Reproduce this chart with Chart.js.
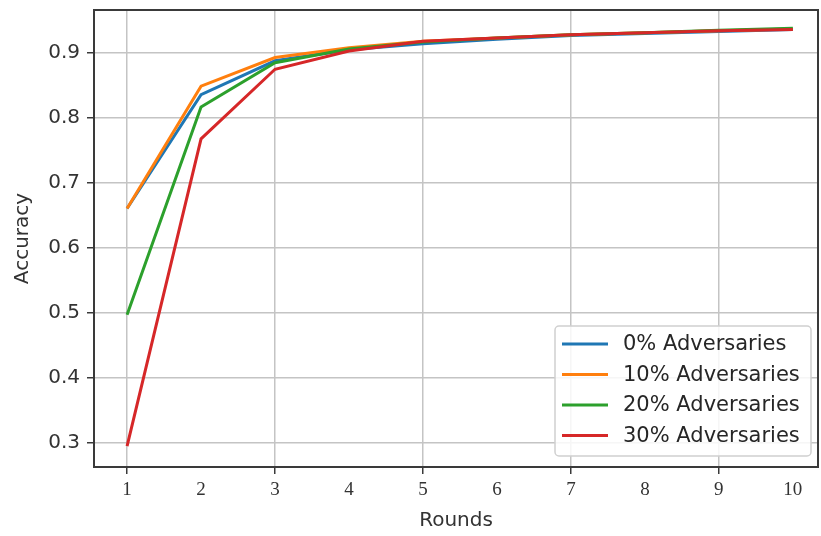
<!DOCTYPE html>
<html>
<head>
<meta charset="utf-8">
<script src="https://cdn.jsdelivr.net/npm/chart.js@4.4.0/dist/chart.umd.min.js"></script>
<style>
  html, body { margin: 0; padding: 0; background: #fff; }
  #wrap { width: 821px; height: 536px; }
</style>
</head>
<body>
<div id="wrap"><canvas id="chart" width="821" height="536"></canvas></div>
<script>
// data
const rounds = [1, 2, 3, 4, 5, 6, 7, 8, 9, 10];
const seriesNames = ['0% Adversaries', '10% Adversaries', '20% Adversaries', '30% Adversaries'];
const adv0 = [0.660, 0.835, 0.887, 0.904, 0.913, 0.920, 0.926, 0.929, 0.932, 0.935];
const adv10 = [0.660, 0.848, 0.892, 0.907, 0.917, 0.922, 0.927, 0.930, 0.933, 0.936];
const adv20 = [0.497, 0.816, 0.884, 0.905, 0.916, 0.922, 0.927, 0.930, 0.934, 0.937];
const adv30 = [0.295, 0.767, 0.874, 0.902, 0.917, 0.922, 0.927, 0.930, 0.933, 0.935];
const yTicks = [0.3, 0.4, 0.5, 0.6, 0.7, 0.8, 0.9];
const xTicks = [1, 2, 3, 4, 5, 6, 7, 8, 9, 10];
const colors = ['#1f77b4', '#ff7f0e', '#2ca02c', '#d62728'];

const gridColor = '#c4c4c4';
const textColor = '#333333';

const allSeries = [adv0, adv10, adv20, adv30];
const datasets = allSeries.map(function (vals, i) {
  return {
    label: seriesNames[i],
    data: rounds.map(function (r, j) { return { x: r, y: vals[j] }; }),
    borderColor: colors[i],
    backgroundColor: colors[i],
    borderWidth: 3,
    pointRadius: 0,
    tension: 0,
    order: allSeries.length - i // later series on top, like matplotlib
  };
});

// frame around the plot area
const frame = {
  id: 'frame',
  afterDraw: function (chart) {
    const a = chart.chartArea;
    const ctx = chart.ctx;
    ctx.save();
    ctx.strokeStyle = '#3a3a3a';
    ctx.lineWidth = 2;
    ctx.strokeRect(a.left, a.top, a.right - a.left, a.bottom - a.top);
    ctx.restore();
  }
};

// legend box in the lower right corner of the plot
const boxLegend = {
  id: 'boxLegend',
  afterDraw: function (chart) {
    const ctx = chart.ctx;
    const x = 555, y = 326, w = 256, h = 130;
    ctx.save();
    ctx.fillStyle = 'rgba(255,255,255,0.85)';
    ctx.strokeStyle = '#d0d0d0';
    ctx.lineWidth = 1.5;
    ctx.beginPath();
    ctx.roundRect(x, y, w, h, 4);
    ctx.fill();
    ctx.stroke();
    ctx.font = '21px "DejaVu Sans"';
    ctx.textBaseline = 'middle';
    ctx.fillStyle = '#262626';
    chart.data.datasets.forEach(function (ds, i) {
      const cy = y + 18 + i * 30.5;
      ctx.strokeStyle = ds.borderColor;
      ctx.lineWidth = 3;
      ctx.beginPath();
      ctx.moveTo(562, cy);
      ctx.lineTo(608, cy);
      ctx.stroke();
      ctx.fillText(ds.label, 623, cy + 1);
    });
    ctx.restore();
  }
};

new Chart(document.getElementById('chart'), {
  type: 'line',
  data: { datasets: datasets },
  options: {
    responsive: false,
    animation: false,
    layout: { padding: { left: 0, right: 3, top: 10, bottom: 0 } },
    plugins: { legend: { display: false }, tooltip: { enabled: false } },
    scales: {
      x: {
        type: 'linear',
        min: 0.553,
        max: 10.34,
        afterBuildTicks: function (scale) {
          scale.ticks = xTicks.map(function (v) { return { value: v }; });
        },
        afterFit: function (scale) {
          scale.height = 69;
          scale.paddingLeft = 0;
          scale.paddingRight = 0;
        },
        border: { display: false },
        grid: {
          lineWidth: 1.5,
          tickLength: 7,
          color: function (c) { return c.tick && c.tick.value % 2 === 1 ? gridColor : 'rgba(0,0,0,0)'; },
          tickColor: function (c) { return c.tick && c.tick.value % 2 === 1 ? '#3a3a3a' : 'rgba(0,0,0,0)'; }
        },
        ticks: {
          autoSkip: false,
          maxRotation: 0,
          padding: 5,
          color: textColor,
          font: { family: '"Liberation Serif", serif', size: 19 },
          callback: function (v) { return String(v); }
        },
        title: {
          display: true,
          text: 'Rounds',
          color: textColor,
          font: { family: '"DejaVu Sans"', size: 20 },
          padding: { top: 0, bottom: 3 }
        }
      },
      y: {
        min: 0.263,
        max: 0.965,
        afterBuildTicks: function (scale) {
          scale.ticks = yTicks.map(function (v) { return { value: v }; });
        },
        afterFit: function (scale) {
          scale.width = 94;
          scale.paddingTop = 0;
          scale.paddingBottom = 0;
        },
        border: { display: false },
        grid: {
          lineWidth: 1.5,
          tickLength: 7,
          color: gridColor,
          tickColor: '#3a3a3a'
        },
        ticks: {
          padding: 7,
          color: textColor,
          font: { family: '"DejaVu Sans"', size: 20 },
          callback: function (v) { return v.toFixed(1); }
        },
        title: {
          display: true,
          text: 'Accuracy',
          color: textColor,
          font: { family: '"DejaVu Sans"', size: 20 },
          padding: { top: 11, bottom: 0 }
        }
      }
    }
  },
  plugins: [frame, boxLegend]
});
</script>
</body>
</html>
